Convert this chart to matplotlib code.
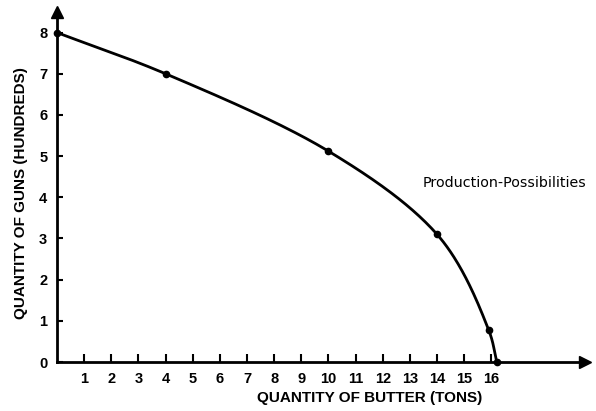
import numpy as np
import matplotlib
matplotlib.use("Agg")
import matplotlib.pyplot as plt

butter = [0, 4, 10, 14, 15.9, 16.2]
guns = [8, 7, 5.12, 3.1, 0.78, 0]
x_ticks = list(range(1, 17))
y_ticks = list(range(0, 9))
curve_label = "Production-Possibilities"
xlabel = "QUANTITY OF BUTTER (TONS)"
ylabel = "QUANTITY OF GUNS (HUNDREDS)"

plt.rcParams['font.family'] = ['Liberation Sans', 'DejaVu Sans']

W, H = 596, 411
fig = plt.figure(figsize=(W / 100, H / 100), dpi=100)
x0, y0, x1, y1 = 57, 362, 585, 12
ax = fig.add_axes([x0 / W, (H - y0) / H, (x1 - x0) / W, (y0 - y1) / H])
ax.set_xlim(0, 19.45)
ax.set_ylim(0, 8.5)


def catmull_rom(xs, ys, n=60):
    p = np.column_stack([np.asarray(xs, float) / 19.45, np.asarray(ys, float) / 8.5])
    p = np.vstack([2 * p[0] - p[1], p, 2 * p[-1] - p[-2]])
    out = []
    for i in range(1, len(p) - 2):
        P0, P1, P2, P3 = p[i - 1], p[i], p[i + 1], p[i + 2]
        t0 = 0.0
        t1 = t0 + np.linalg.norm(P1 - P0) ** 0.5
        t2 = t1 + np.linalg.norm(P2 - P1) ** 0.5
        t3 = t2 + np.linalg.norm(P3 - P2) ** 0.5
        t = np.linspace(t1, t2, n)[:, None]
        A1 = (t1 - t) / (t1 - t0) * P0 + (t - t0) / (t1 - t0) * P1
        A2 = (t2 - t) / (t2 - t1) * P1 + (t - t1) / (t2 - t1) * P2
        A3 = (t3 - t) / (t3 - t2) * P2 + (t - t2) / (t3 - t2) * P3
        B1 = (t2 - t) / (t2 - t0) * A1 + (t - t0) / (t2 - t0) * A2
        B2 = (t3 - t) / (t3 - t1) * A2 + (t - t1) / (t3 - t1) * A3
        C = (t2 - t) / (t2 - t1) * B1 + (t - t1) / (t2 - t1) * B2
        out.append(C)
    c = np.vstack(out)
    return c[:, 0] * 19.45, c[:, 1] * 8.5


cx, cy = catmull_rom(butter, guns)
ax.plot(cx, cy, color='black', lw=2.0, clip_on=False, zorder=3)
ax.plot(butter, guns, 'o', color='black', ms=4.5, clip_on=False, zorder=4)

for s in ['top', 'right']:
    ax.spines[s].set_visible(False)
for s in ['left', 'bottom']:
    ax.spines[s].set_linewidth(2.0)

ax.plot(1, 0, '>', color='black', ms=8, transform=ax.transAxes, clip_on=False)
ax.plot(0, 1, '^', color='black', ms=8, transform=ax.transAxes, clip_on=False)

ax.set_xticks(x_ticks)
ax.set_yticks(y_ticks)
ax.tick_params(axis='x', direction='in', length=6, width=1.5, pad=7,
               labelsize=10.5)
ax.tick_params(axis='y', direction='in', length=4, width=1.5, pad=7,
               labelsize=10.5)
for lab in ax.get_xticklabels() + ax.get_yticklabels():
    lab.set_fontweight('bold')

fig.text(370 / W, 1 - 398 / H, xlabel, ha='center', va='center',
         fontsize=11, fontweight='bold')
fig.text(21 / W, 1 - 193 / H, ylabel, ha='center', va='center',
         fontsize=11, fontweight='bold', rotation=90)
fig.text(423 / W, 1 - 183 / H, curve_label, ha='left', va='center',
         fontsize=10.3, family=['DejaVu Sans'])

fig.savefig('out.png', dpi=100)
